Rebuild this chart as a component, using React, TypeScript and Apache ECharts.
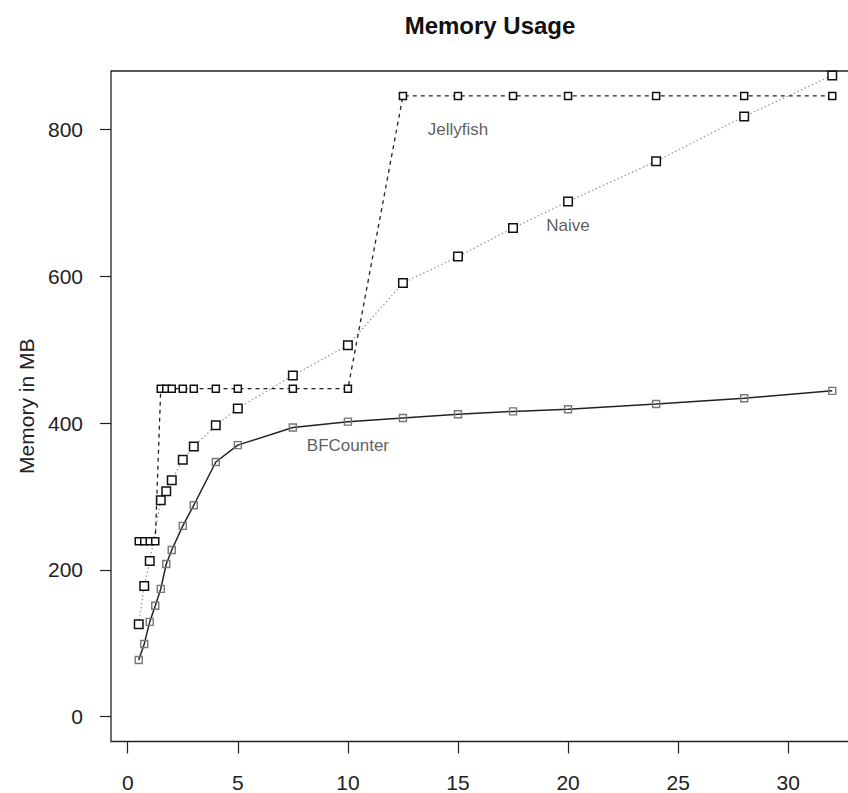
import React, { useEffect, useRef } from "react";
import * as echarts from "echarts";

const xValues = [0.5, 0.75, 1, 1.25, 1.5, 1.75, 2, 2.5, 3, 4, 5, 7.5, 10, 12.5, 15, 17.5, 20, 24, 28, 32];
const naiveX = [0.5, 0.75, 1, 1.5, 1.75, 2, 2.5, 3, 4, 5, 7.5, 10, 12.5, 15, 17.5, 20, 24, 28, 32];
const jellyfish = [239, 239, 239, 239, 447, 447, 447, 447, 447, 447, 447, 447, 447, 846, 846, 846, 846, 846, 846, 846];
const naive = [126, 178, 212, 295, 307, 322, 350, 368, 397, 420, 465, 506, 591, 627, 666, 702, 757, 818, 874];
const bfcounter = [77, 99, 129, 151, 174, 208, 227, 260, 288, 347, 370, 394, 402, 407, 412, 416, 419, 426, 434, 444];
const xTicks = [0, 5, 10, 15, 20, 25, 30];
const yTicks = [0, 200, 400, 600, 800];
const labelNames = ["Jellyfish", "Naive", "BFCounter"];
const labelX = [15, 20, 10];
const labelY = [800, 670, 370];

const FONT = "'Liberation Sans', Arial, Helvetica, sans-serif";

export default function App() {
  const ref = useRef<HTMLDivElement>(null);
  useEffect(() => {
    document.body.style.margin = "0";
    const chart = echarts.init(ref.current!, undefined, { renderer: "svg" });
    const pts = (xs: number[], v: number[]) => xs.map((x, i) => [x, v[i]]);
    chart.setOption({
      animation: false,
      backgroundColor: "#fff",
      title: {
        text: "Memory Usage",
        left: 485,
        textAlign: "center",
        top: 8,
        textStyle: { fontFamily: FONT, fontSize: 24, fontWeight: "bold", color: "#111" },
      },
      grid: {
        left: 111,
        top: 71,
        width: 749,
        height: 670.5,
        show: true,
        borderColor: "#222",
        borderWidth: 1.3,
        backgroundColor: "transparent",
      },
      xAxis: {
        type: "value",
        min: -0.76,
        max: 33.26,
        axisLine: { show: false, onZero: false },
        splitLine: { show: false },
        axisTick: { show: true, customValues: xTicks, length: 12, lineStyle: { color: "#222", width: 1.2 } },
        axisLabel: { customValues: xTicks, margin: 30, fontSize: 21, fontFamily: FONT, color: "#222" },
      },
      yAxis: {
        type: "value",
        min: -34,
        max: 880,
        name: "Memory in MB",
        nameLocation: "middle",
        nameGap: 73,
        nameTextStyle: { fontFamily: FONT, fontSize: 21, color: "#222" },
        axisLine: { show: false, onZero: false },
        splitLine: { show: false },
        axisTick: { show: true, customValues: yTicks, length: 11, lineStyle: { color: "#222", width: 1.2 } },
        axisLabel: { customValues: yTicks, margin: 28, fontSize: 21, fontFamily: FONT, color: "#222" },
      },
      series: [
        {
          name: "Naive",
          type: "line",
          data: pts(naiveX, naive),
          symbol: "rect",
          symbolSize: 8.5,
          lineStyle: { color: "#999", width: 1.3, type: [1.5, 2.5] },
          itemStyle: { color: "#fff", borderColor: "#111", borderWidth: 1.5 },
          z: 2,
        },
        {
          name: "Jellyfish",
          type: "line",
          data: pts(xValues, jellyfish),
          symbol: "rect",
          symbolSize: 7,
          lineStyle: { color: "#222", width: 1.3, type: [4, 4] },
          itemStyle: { color: "#fff", borderColor: "#111", borderWidth: 1.5 },
          z: 3,
        },
        {
          name: "BFCounter",
          type: "line",
          data: pts(xValues, bfcounter),
          symbol: "rect",
          symbolSize: 7,
          lineStyle: { color: "#222", width: 1.5 },
          itemStyle: { color: "rgba(0,0,0,0)", borderColor: "#777", borderWidth: 1.4 },
          z: 4,
        },
        {
          name: "labels",
          type: "scatter",
          data: labelNames.map((n, i) => [labelX[i], labelY[i], n]),
          symbolSize: 1,
          itemStyle: { color: "rgba(0,0,0,0)" },
          label: {
            show: true,
            position: "inside",
            formatter: (p: any) => p.value[2],
            fontFamily: FONT,
            fontSize: 17,
            color: "#333",
          },
          silent: true,
          z: 5,
        },
      ],
    });
    return () => chart.dispose();
  }, []);
  return (
    <div style={{ position: "absolute", left: 0, top: 0, width: 848, height: 793, overflow: "hidden" }}>
      <div ref={ref} style={{ width: 870, height: 793 }} />
    </div>
  );
}
